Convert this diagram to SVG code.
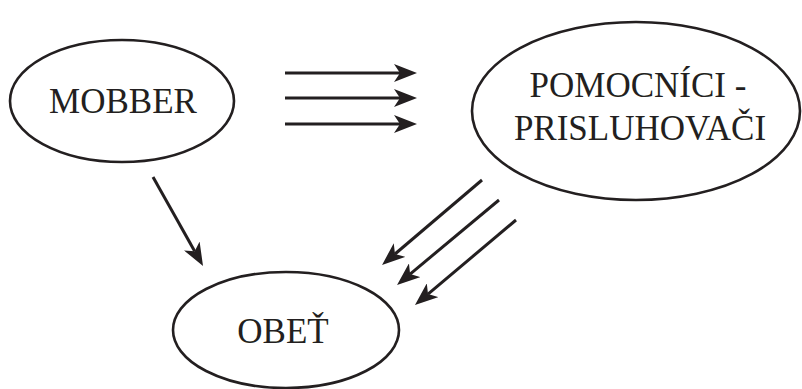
<svg xmlns="http://www.w3.org/2000/svg" width="802" height="389" viewBox="0 0 802 389">
<style>
.node ellipse{fill:#fff;stroke:#231f20;stroke-width:2.6}
.node text{font-family:"Liberation Serif","Times New Roman",serif;font-size:35px;fill:#231f20;text-anchor:middle}
.conn line{stroke:#231f20;stroke-width:3;marker-end:url(#ah)}
</style>
<defs>
<marker id="ah" viewBox="0 0 24 18" markerWidth="24" markerHeight="18" refX="6" refY="9" orient="auto" markerUnits="userSpaceOnUse">
<path d="M0,0 L23,9 L0,18 L6,9 Z" fill="#231f20"/>
</marker>
</defs>
<rect width="802" height="389" fill="#fff"/>
<g id="mobber" class="node">
<ellipse cx="122" cy="101" rx="112" ry="61"/>
<text x="123" y="113">MOBBER</text>
</g>
<g id="pomocnici" class="node">
<ellipse cx="636" cy="111" rx="164" ry="89"/>
<text x="638" y="97">POMOCNÍCI -</text>
<text x="640" y="140">PRISLUHOVAČI</text>
</g>
<g id="obet" class="node">
<ellipse cx="286" cy="330" rx="113" ry="58"/>
<text x="283" y="343">OBEŤ</text>
</g>
<g id="connectors" class="conn">
<line x1="285" y1="73" x2="400" y2="73"/>
<line x1="285" y1="98" x2="400" y2="98"/>
<line x1="285" y1="124" x2="400" y2="124"/>
<line x1="153" y1="177" x2="194.7" y2="251.2"/>
<line x1="482" y1="180" x2="395" y2="254"/>
<line x1="499" y1="200" x2="410.1" y2="274.1"/>
<line x1="516" y1="220" x2="428" y2="294.1"/>
</g>
</svg>
